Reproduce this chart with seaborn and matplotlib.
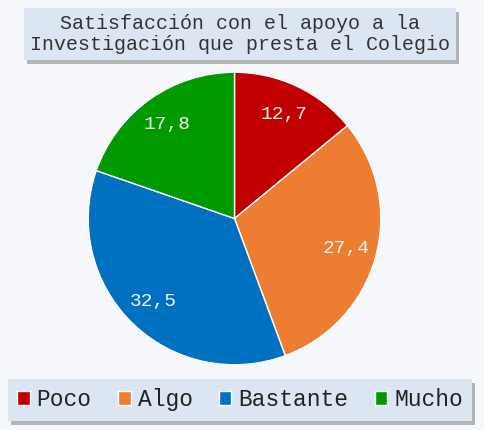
import matplotlib
matplotlib.use('Agg')
import matplotlib.pyplot as plt
import matplotlib.patheffects as pe
import seaborn as sns

categorias = ['Poco', 'Algo', 'Bastante', 'Mucho']
valores = [12.7, 27.4, 32.5, 17.8]
etiquetas = ['12,7', '27,4', '32,5', '17,8']
colores = ['#c00000', '#ed7d31', '#0070c0', '#009900']

sns.set_theme(style='white')
plt.rcParams['font.family'] = ['Liberation Mono', 'DejaVu Sans Mono']

bg = '#f5f7fb'
fig = plt.figure(figsize=(4.84, 4.30), dpi=100)
fig.patch.set_facecolor(bg)

ax = fig.add_axes([0.1808, 0.15, 0.6074, 0.6837])
ax.set_facecolor(bg)

it = iter(etiquetas)
wedges, texts, autotexts = ax.pie(valores,
                                  colors=sns.color_palette(colores),
                                  startangle=90, counterclock=False,
                                  autopct=lambda p: next(it),
                                  pctdistance=0.79,
                                  wedgeprops={'edgecolor': 'white', 'linewidth': 1},
                                  textprops={'fontsize': 14, 'color': '#f4f4f4'})
ax.set_xlim(-1.005, 1.005)
ax.set_ylim(-1.005, 1.005)
ax.set_aspect('equal')

# title box
sombra = [pe.withSimplePatchShadow(offset=(2, -3), shadow_rgbFace='#888888', alpha=0.6)]
t = fig.text(0.4965, 0.921, 'Satisfacción con el apoyo a la\nInvestigación que presta el Colegio',
             ha='center', va='center', fontsize=14.4, color='#333333', linespacing=1.15,
             bbox=dict(boxstyle='square,pad=0.3', facecolor='#dce6f2', edgecolor='none'))
t.get_bbox_patch().set_path_effects(sombra)

leg = fig.legend(wedges, categorias, loc='center', bbox_to_anchor=(0.496, 0.07),
                 ncol=4, fontsize=16.5, frameon=True, fancybox=False, shadow=False,
                 handlelength=0.55, handleheight=0.55, handletextpad=0.3,
                 columnspacing=1.15, borderpad=0.4, labelcolor='#222222')
fr = leg.get_frame()
fr.set_facecolor('#dce6f2')
fr.set_edgecolor('none')
fr.set_alpha(1)
fr.set_path_effects(sombra)
for h in leg.legend_handles:
    h.set_edgecolor('white')
    h.set_linewidth(1)

fig.savefig('out.png', dpi=100, facecolor=bg)
